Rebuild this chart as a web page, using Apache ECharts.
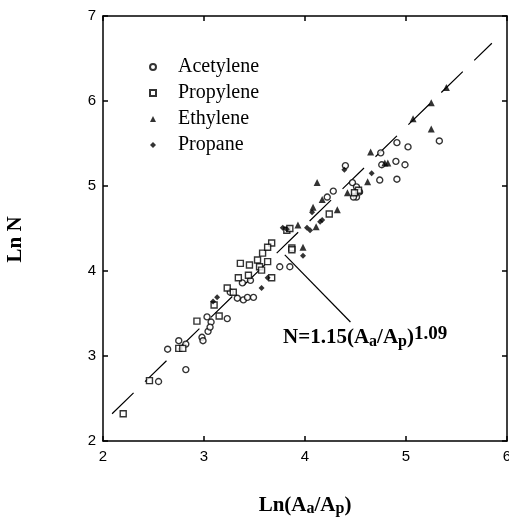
<!DOCTYPE html>
<html>
<head>
<meta charset="utf-8">
<script src="https://cdn.jsdelivr.net/npm/echarts@6/dist/echarts.min.js"></script>
<style>
html, body { margin: 0; padding: 0; background: #fff; }
#chart { width: 509px; height: 518px; }
</style>
</head>
<body>
<div id="chart"></div>
<script>
// values: [Ln(Aa/Ap), Ln N]
const acetylene = [
    [2.55, 2.70], [2.64, 3.08], [2.82, 2.84], [2.75, 3.18], [2.82, 3.14], [2.98, 3.22],
    [2.99, 3.18], [3.03, 3.46], [3.04, 3.29], [3.07, 3.40], [3.06, 3.34], [3.23, 3.44],
    [3.26, 3.75], [3.33, 3.68], [3.39, 3.66], [3.43, 3.69], [3.49, 3.69], [3.38, 3.86],
    [3.46, 3.89], [3.75, 4.05], [3.85, 4.05], [4.22, 4.87], [4.28, 4.94], [4.40, 5.24],
    [4.47, 5.04], [4.51, 4.99], [4.54, 4.93], [4.51, 4.87], [4.48, 4.87], [4.74, 5.07],
    [4.75, 5.39], [4.91, 5.08], [4.90, 5.29], [4.99, 5.25], [4.91, 5.51], [5.02, 5.46],
    [5.33, 5.53], [4.76, 5.25]
];
const propylene = [
    [2.20, 2.32], [2.46, 2.71], [2.75, 3.09], [2.79, 3.09], [2.93, 3.41], [3.15, 3.47],
    [3.10, 3.60], [3.23, 3.80], [3.29, 3.75], [3.34, 3.92], [3.44, 3.95], [3.36, 4.09],
    [3.45, 4.07], [3.53, 4.13], [3.55, 4.05], [3.57, 4.01], [3.63, 4.11], [3.58, 4.21],
    [3.67, 4.33], [3.63, 4.28], [3.67, 3.92], [3.87, 4.27], [3.82, 4.48], [3.85, 4.50],
    [3.87, 4.25], [4.24, 4.67], [4.53, 4.95], [4.49, 4.92]
];
const ethylene = [
    [3.98, 4.28], [4.12, 5.04], [4.32, 4.72], [4.42, 4.92], [4.62, 5.05], [4.65, 5.40],
    [4.79, 5.27], [4.82, 5.27], [5.07, 5.79], [5.25, 5.98], [5.25, 5.67], [5.40, 6.16],
    [4.17, 4.84], [4.08, 4.75], [3.93, 4.54], [4.11, 4.52]
];
const propane = [
    [3.09, 3.64], [3.13, 3.69], [3.57, 3.80], [3.63, 3.92], [3.98, 4.18], [3.78, 4.51],
    [3.82, 4.49], [4.02, 4.51], [4.05, 4.48], [4.07, 4.69], [4.17, 4.60], [4.15, 4.58],
    [4.39, 5.19], [4.66, 5.15]
];
// fitted line and the pointer to its equation
const fitLine = [[2.09, 2.32], [5.85, 6.68]];
const leader = [[3.80, 4.19], [4.45, 3.40]];

const xTicks = { min: 2, max: 6, interval: 1 };
const yTicks = { min: 2, max: 7, interval: 1 };

const chart = echarts.init(document.getElementById('chart'));

const axisLine = { onZero: false, lineStyle: { color: '#000', width: 1.5 } };
const axisTick = { inside: true, length: 5, lineStyle: { color: '#000', width: 1.5 } };
const tickLabel = { color: '#000', fontFamily: 'Liberation Sans', fontSize: 15 };
const serifBold = { fontFamily: 'Liberation Serif', fontWeight: 'bold', color: '#000' };

const hollow = { color: '#fff', borderColor: '#000', borderWidth: 1.4 };
const filled = { color: '#000' };

const option = {
    animation: false,
    backgroundColor: '#fff',
    grid: { left: 103, right: 2, top: 16, bottom: 77, containLabel: false, outerBoundsMode: 'none' },
    legend: {
        orient: 'vertical',
        left: 144,
        top: 52,
        itemWidth: 6,
        itemHeight: 6,
        itemGap: 6,
        textStyle: { fontFamily: 'Liberation Serif', fontSize: 20, color: '#000', padding: [0, 0, 0, 17] },
        data: ['Acetylene', 'Propylene', 'Ethylene', 'Propane']
    },
    xAxis: [
        {
            type: 'value', ...xTicks, position: 'bottom',
            axisLine, axisTick,
            axisLabel: { ...tickLabel, margin: 8 },
            splitLine: { show: false },
            name: 'Ln(A{sub|a}/A{sub|p})',
            nameLocation: 'middle',
            nameGap: 54,
            nameTextStyle: {
                ...serifBold, fontSize: 21, lineHeight: 22,
                rich: { sub: { ...serifBold, fontSize: 16, lineHeight: 6, verticalAlign: 'bottom' } }
            }
        },
        {
            type: 'value', ...xTicks, position: 'top',
            axisLine, axisTick,
            axisLabel: { show: false },
            splitLine: { show: false }
        }
    ],
    yAxis: [
        {
            type: 'value', ...yTicks, position: 'left',
            axisLine, axisTick,
            axisLabel: { ...tickLabel, margin: 7 },
            splitLine: { show: false },
            name: 'Ln N',
            nameLocation: 'middle',
            nameGap: 77,
            nameTextStyle: { ...serifBold, fontSize: 21, padding: [0, 22, 0, 0] }
        },
        {
            type: 'value', ...yTicks, position: 'right',
            axisLine, axisTick,
            axisLabel: { show: false },
            splitLine: { show: false }
        }
    ],
    graphic: [
        {
            type: 'text',
            left: 283,
            top: 325,
            style: {
                text: 'N=1.15(A{sub|a}/A{sub|p}){sup|1.09}',
                fontFamily: 'Liberation Serif',
                fontWeight: 'bold',
                fontSize: 21,
                lineHeight: 25,
                fill: '#000',
                rich: {
                    sub: { fontFamily: 'Liberation Serif', fontWeight: 'bold', fontSize: 16, lineHeight: 6, verticalAlign: 'bottom', fill: '#000' },
                    sup: { fontFamily: 'Liberation Serif', fontWeight: 'bold', fontSize: 19, lineHeight: 6, verticalAlign: 'top', fill: '#000' }
                }
            }
        }
    ],
    series: [
        {
            name: 'fit', type: 'line', data: fitLine, symbol: 'none', silent: true,
            lineStyle: { color: '#000', width: 1.2, type: [30, 16] }, z: 1
        },
        {
            name: 'leader', type: 'line', data: leader, symbol: 'none', silent: true,
            lineStyle: { color: '#000', width: 1.2 }, z: 1
        },
        { name: 'Acetylene', type: 'scatter', symbol: 'circle', symbolSize: 6, itemStyle: hollow, data: acetylene },
        { name: 'Propylene', type: 'scatter', symbol: 'rect', symbolSize: 6, itemStyle: hollow, data: propylene },
        { name: 'Ethylene', type: 'scatter', symbol: 'triangle', symbolSize: 7, itemStyle: filled, data: ethylene },
        { name: 'Propane', type: 'scatter', symbol: 'diamond', symbolSize: 6, itemStyle: filled, data: propane }
    ]
};

chart.setOption(option);
</script>
</body>
</html>
